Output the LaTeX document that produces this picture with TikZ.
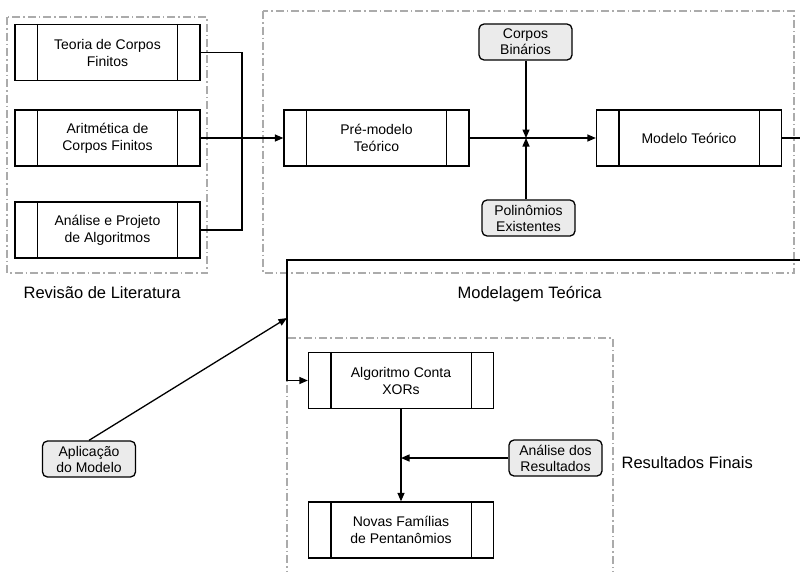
\documentclass[tikz,border=0pt]{standalone}
\usepackage{fontspec}
\setmainfont{Liberation Sans}
\usetikzlibrary{arrows.meta}

\begin{document}
\begin{tikzpicture}[x=1pt, y=-1pt, line width=1.3pt,
  >={Triangle[length=8.5pt,width=7pt]},
  proc/.style={draw, rectangle, minimum width=185pt, minimum height=56pt,
    align=center, font=\fontsize{14}{17}\selectfont, inner sep=0pt},
  extra/.style={draw, rectangle, rounded corners=5pt, fill=black!8,
    minimum width=93pt, minimum height=36pt, align=center,
    font=\fontsize{14}{16}\selectfont, inner sep=0pt},
  group/.style={draw=black!33, line width=1.1pt,
    dash pattern=on 8pt off 3pt on 1.5pt off 3pt},
  grouplabel/.style={anchor=base west, font=\fontsize{16.5}{20}\selectfont, inner sep=0pt}]

\useasboundingbox (0,0) rectangle (800,571);
\clip (0,0) rectangle (800,571);

% Group frames
\draw[group] (7,17) rectangle (207,273);
\draw[group] (263,11) rectangle (794,273);
\draw[group] (287,338) rectangle (613,590);
\node[grouplabel] (lbllit) at (23,298) {Revisão de Literatura};
\node[grouplabel] (lblmod) at (457,298) {Modelagem Teórica};
\node[grouplabel] (lblres) at (621,468) {Resultados Finais};

% Process boxes
\node[proc] (teoria)  at (107.5,52.5) {Teoria de Corpos\\Finitos};
\node[proc] (aritm)   at (107.5,138)  {Aritmética de\\Corpos Finitos};
\node[proc] (analise) at (107.5,230)  {Análise e Projeto\\de Algoritmos};
\node[proc] (premod)  at (376.5,138)  {Pré-modelo\\Teórico};
\node[proc] (modelo)  at (689,138)    {Modelo Teórico};
\node[proc] (algo)    at (401,380.5)  {Algoritmo Conta\\XORs};
\node[proc] (novas)   at (401,530)    {Novas Famílias\\de Pentanômios};

% side bars of the process boxes
\foreach \n in {teoria,aritm,analise,premod,modelo,algo,novas} {
  \draw ([xshift=23pt]\n.north west) -- ([xshift=23pt]\n.south west);
  \draw ([xshift=-23pt]\n.north east) -- ([xshift=-23pt]\n.south east);
}

% Inputs
\node[extra] (corpos) at (525.5,42)  {Corpos\\Binários};
\node[extra] (polin)  at (528.5,218) {Polinômios\\Existentes};
\node[extra] (aplic)  at (89,459)    {Aplicação\\do Modelo};
\node[extra] (analres) at (555.5,458) {Análise dos\\Resultados};

\coordinate (join) at (242,138);
\coordinate (meet) at (526,138);
\coordinate (back) at (287,260);
\coordinate (hit)  at (287,318);
\coordinate (tap)  at (401,458);

% Connectors
\draw (teoria.east) -| (join);
\draw (analise.east) -| (join);
\draw[->] (aritm.east) -- (premod.west);
\draw[->] (premod.east) -- (modelo.west);
\draw[->] (corpos.south -| meet) -- (meet);
\draw[->] (polin.north -| meet) -- (meet);
\draw[->] (modelo.east) -- ++(40,0) |- (back) |- (algo.west);
\draw[->] (aplic.north) -- (hit);
\draw[->] (algo.south) -- (novas.north);
\draw[->] (analres.west) -- (tap);

\end{tikzpicture}
\end{document}
